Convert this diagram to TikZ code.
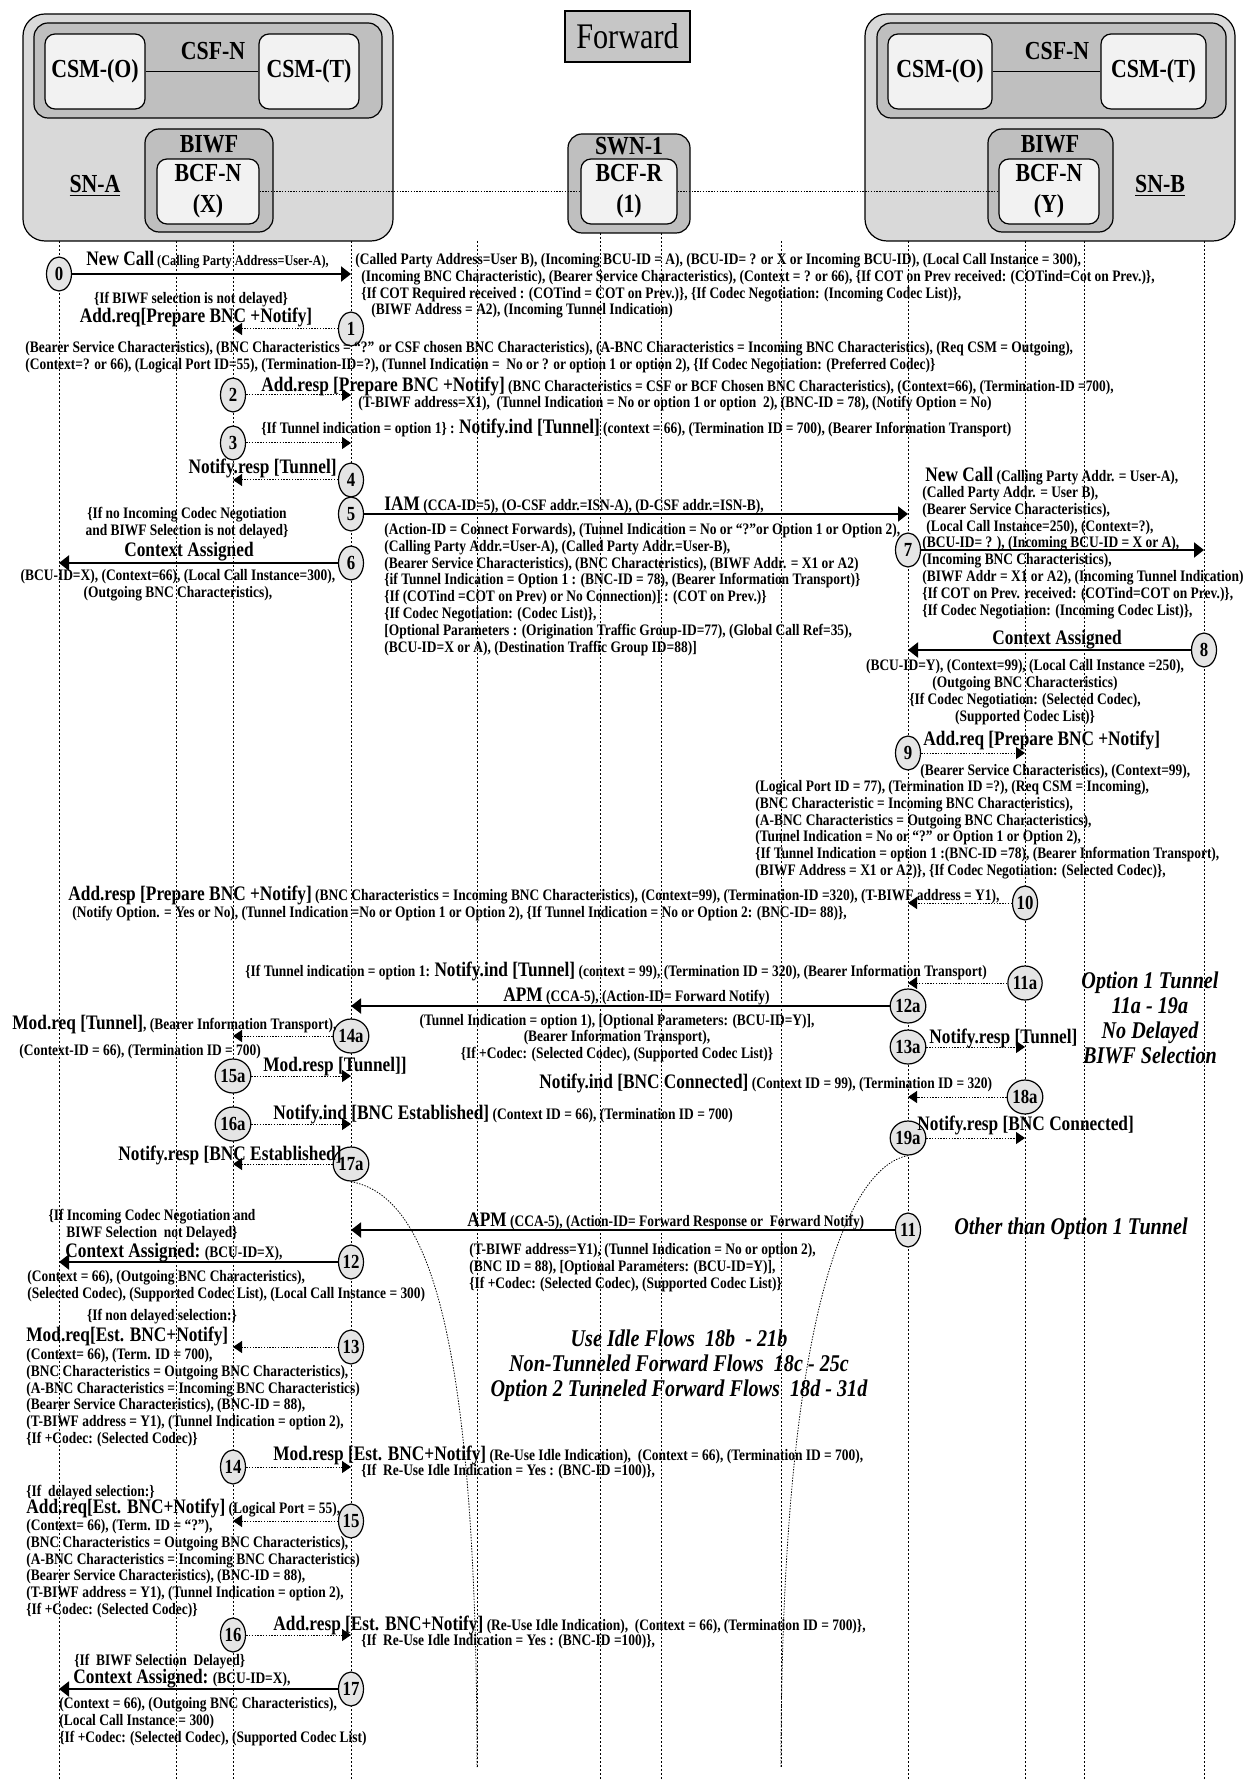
\documentclass[tikz,border=0pt]{standalone}
\usepackage{fontspec}
\setmainfont{Liberation Serif}[FakeStretch=0.84]
\usetikzlibrary{arrows.meta,shapes.geometric}

\newcommand{\txtsize}{\fontsize{8}{8.4}\selectfont}
\newcommand{\tinysize}{\fontsize{7.3}{8.4}\selectfont}
\newcommand{\msgsize}{\fontsize{10.3}{11}\selectfont}
\newcommand{\hdrsize}{\fontsize{13}{15.5}\selectfont}

\tikzset{
  lifeline/.style={line width=0.35pt, dash pattern=on 1pt off 1pt},
  snbox/.style={draw, line width=0.6pt, fill=gray!30, rounded corners=11pt},
  grpbox/.style={draw, line width=0.6pt, fill=gray!50, rounded corners=7pt},
  inbox/.style={draw, line width=0.6pt, fill=gray!10, rounded corners=5pt, font=\bfseries\hdrsize, align=center, inner sep=0pt},
  hdr/.style={font=\bfseries\hdrsize, inner sep=0pt},
  seqnum/.style={ellipse, draw, line width=0.6pt, fill=gray!20, minimum width=12.5pt, minimum height=17pt, inner sep=0pt, font=\bfseries\fontsize{10}{10}\selectfont},
  solidmsg/.style={line width=1pt, -{Triangle[length=5pt,width=7.5pt]}},
  dotmsg/.style={line width=0.5pt, dash pattern=on 0.7pt off 0.7pt, -{Triangle[length=4.5pt,width=6pt]}},
  txt/.style={font=\bfseries\txtsize, inner sep=0pt, anchor=base west},
  blk/.style={font=\bfseries\txtsize, inner sep=0pt, align=left, anchor=north west},
  cblk/.style={font=\bfseries\txtsize, inner sep=0pt, align=center},
  flow/.style={font=\bfseries\itshape\fontsize{12}{12.6}\selectfont, inner sep=0pt, align=center},
  link/.style={line width=0.4pt, dash pattern=on 0.7pt off 0.7pt}
}

\begin{document}
\begin{tikzpicture}[x=0.5pt, y=-0.5pt]
  \useasboundingbox (0,0) rectangle (1249,1780);

  % Lifelines
  \foreach \n/\lx/\ly/\ey in {1/59/241/1780, 2/176/241/1780, 3/233/241/1780, 4/351/241/1780,
      5/477/241/1767, 6/600/233/1780, 7/661/233/1780, 8/781/241/1767,
      9/908/241/1780, 10/1025/241/1780, 11/1084/241/1780, 12/1204/241/1780}{
    \coordinate (l\n) at (\lx,\ly);
    \coordinate (e\n) at (\lx,\ey);
    \draw[lifeline] (l\n) -- (e\n);
  }

  % Title
  \node[draw, line width=0.6pt, fill=gray!45, minimum width=62.5pt, minimum height=25.5pt, font=\fontsize{18}{20}\selectfont] (fwd) at (627.5,36.5) {Forward};

  % SN-A
  \node[snbox, minimum width=185pt, minimum height=113.5pt] (sna) at (208,127.5) {};
  \node[grpbox, minimum width=174pt, minimum height=47.5pt] (csfa) at (208,70.5) {};
  \node[inbox, minimum width=50pt, minimum height=37.5pt] (csmoa) at (95,71.5) {CSM-(O)};
  \node[inbox, minimum width=50pt, minimum height=37.5pt] (csmta) at (309,71.5) {CSM-(T)};
  \draw[line width=0.6pt] (csmoa) -- (csmta);
  \node[hdr] (csfla) at (213,51) {CSF-N};
  \node[grpbox, minimum width=64pt, minimum height=51.5pt] (biwfa) at (209,180.5) {};
  \node[hdr] (biwfla) at (209,144) {BIWF};
  \node[inbox, minimum width=51pt, minimum height=32.5pt] (bcfx) at (208,191.5) {BCF-N\\(X)};
  \node[hdr] (snal) at (95,186) {\underline{SN-A}};

  % SWN-1
  \node[grpbox, minimum width=61pt, minimum height=49.5pt] (swn) at (629,183.5) {};
  \node[hdr] (swnl) at (629,146) {SWN-1};
  \node[inbox, minimum width=48pt, minimum height=32.5pt] (bcfr) at (629,191.5) {BCF-R\\(1)};

  % SN-B
  \node[snbox, minimum width=185pt, minimum height=113.5pt] (snb) at (1050,127.5) {};
  \node[grpbox, minimum width=174.5pt, minimum height=47.5pt] (csfb) at (1051.5,70.5) {};
  \node[inbox, minimum width=52pt, minimum height=37.5pt] (csmob) at (940,71.5) {CSM-(O)};
  \node[inbox, minimum width=52.5pt, minimum height=37.5pt] (csmtb) at (1153.5,71.5) {CSM-(T)};
  \draw[line width=0.6pt] (csmob) -- (csmtb);
  \node[hdr] (csflb) at (1057,51) {CSF-N};
  \node[grpbox, minimum width=62.5pt, minimum height=51.5pt] (biwfb) at (1050.5,180.5) {};
  \node[hdr] (biwflb) at (1050,144) {BIWF};
  \node[inbox, minimum width=50pt, minimum height=32.5pt] (bcfy) at (1049,191.5) {BCF-N\\(Y)};
  \node[hdr] (snbl) at (1160,186) {\underline{SN-B}};

  % Bearer links
  \draw[link] (bcfx) -- (bcfr);
  \draw[link] (bcfr) -- (bcfy);

  % 0: New Call
  \node[seqnum] (c0) at (59,274) {0};
  \draw[solidmsg] (c0) -- (c0 -| l4);
  \node[txt, font=\bfseries\tinysize] (m0) at (86,266) {{\msgsize New Call} (Calling Party Address=User-A),};
  \node[blk] (m0b) at (355,253) {(Called Party Address=User B), (Incoming BCU-ID = A), (BCU-ID= ? or X or Incoming BCU-ID), (Local Call Instance = 300),\\
    \hspace*{3pt}(Incoming BNC Characteristic), (Bearer Service Characteristics), (Context = ? or 66), \{If COT on Prev received: (COTind=Cot on Prev.)\},\\
    \hspace*{3pt}\{If COT Required received : (COTind = COT on Prev.)\}, \{If Codec Negotiation: (Incoming Codec List)\},\\
    \hspace*{8pt}(BIWF Address = A2), (Incoming Tunnel Indication)};

  % 1: Add.req
  \node[txt, anchor=base] (m1c) at (191,304) {\{If BIWF selection is not delayed\}};
  \node[txt, anchor=base] (m1) at (196,323) {\msgsize Add.req[Prepare BNC +Notify]};
  \node[seqnum] (c1) at (351,329) {1};
  \draw[dotmsg] (c1) -- (c1 -| l3);
  \node[blk] (m1b) at (25,341) {(Bearer Service Characteristics), (BNC Characteristics = ``?'' or CSF chosen BNC Characteristics), (A-BNC Characteristics = Incoming BNC Characteristics), (Req CSM = Outgoing),\\
    (Context=? or 66), (Logical Port ID=55), (Termination-ID=?), (Tunnel Indication = ~No or ? or option 1 or option 2), \{If Codec Negotiation: (Preferred Codec)\}};

  % 2: Add.resp
  \node[seqnum] (c2) at (233,395) {2};
  \draw[dotmsg] (c2) -- (c2 -| l4);
  \node[txt] (m2) at (261,392) {{\msgsize Add.resp [Prepare BNC +Notify]} (BNC Characteristics = CSF or BCF Chosen BNC Characteristics), (Context=66), (Termination-ID =700),};
  \node[txt] (m2b) at (358,408) {(T-BIWF address=X1), ~(Tunnel Indication = No or option 1 or option ~2), (BNC-ID = 78), (Notify Option = No)};

  % 3: Notify.ind
  \node[seqnum] (c3) at (233,443) {3};
  \draw[dotmsg] (c3) -- (c3 -| l4);
  \node[txt] (m3) at (261,434) {\{If Tunnel indication = option 1\} : {\msgsize Notify.ind [Tunnel]} (context = 66), (Termination ID = 700), (Bearer Information Transport)};

  % 4: Notify.resp
  \node[seqnum] (c4) at (351,480) {4};
  \draw[dotmsg] (c4) -- (c4 -| l3);
  \node[txt, anchor=base east] (m4) at (337,474) {\msgsize Notify.resp [Tunnel]};

  % 5: IAM
  \node[seqnum] (c5) at (351,514) {5};
  \draw[solidmsg] (c5) -- (c5 -| l9);
  \node[txt] (m5) at (384,510) {{\msgsize IAM} (CCA-ID=5), (O-CSF addr.=ISN-A), (D-CSF addr.=ISN-B),};
  \node[blk] (m5b) at (384,523) {(Action-ID = Connect Forwards), (Tunnel Indication = No or ``?''or Option 1 or Option 2),\\
    (Calling Party Addr.=User-A), (Called Party Addr.=User-B),\\
    (Bearer Service Characteristics), (BNC Characteristics), (BIWF Addr. = X1 or A2)\\
    \{if Tunnel Indication = Option 1 : (BNC-ID = 78), (Bearer Information Transport)\}\\
    \{If (COTind =COT on Prev) or No Connection)] : (COT on Prev.)\}\\
    \{If Codec Negotiation: (Codec List)\},\\
    {[}Optional Parameters : (Origination Traffic Group-ID=77), (Global Call Ref=35),\\
    (BCU-ID=X or A), (Destination Traffic Group ID=88)]};

  % 6: Context Assigned
  \node[cblk] (m6c) at (187,523) {\{If no Incoming Codec Negotiation\\and BIWF Selection is not delayed\}};
  \node[txt, anchor=base] (m6) at (189,556) {\msgsize Context Assigned};
  \node[seqnum] (c6) at (351,563) {6};
  \draw[solidmsg] (c6) -- (c6 -| l1);
  \node[cblk] (m6b) at (178,585) {(BCU-ID=X), (Context=66), (Local Call Instance=300),\\(Outgoing BNC Characteristics),};

  % 7: New Call (SN-B)
  \node[txt] (m7) at (925,482) {{\msgsize New Call} (Calling Party Addr. = User-A),};
  \node[seqnum] (c7) at (908,550) {7};
  \draw[solidmsg] (c7) -- (c7 -| l12);
  \node[blk] (m7b) at (922,486) {(Called Party Addr. = User B),\\
    (Bearer Service Characteristics),\\
    \hspace*{2pt}(Local Call Instance=250), (Context=?),\\
    (BCU-ID= ? ), (Incoming BCU-ID = X or A),\\
    (Incoming BNC Characteristics),\\
    (BIWF Addr = X1 or A2), (Incoming Tunnel Indication)\\
    \{If COT on Prev. received: (COTind=COT on Prev.)\},\\
    \{If Codec Negotiation: (Incoming Codec List)\},};

  % 8: Context Assigned (SN-B)
  \node[txt, anchor=base] (m8) at (1057,644) {\msgsize Context Assigned};
  \node[seqnum] (c8) at (1204,650) {8};
  \draw[solidmsg] (c8) -- (c8 -| l9);
  \node[cblk] (m8b) at (1025,692) {(BCU-ID=Y), (Context=99), (Local Call Instance =250),\\
    (Outgoing BNC Characteristics)\\
    \{If Codec Negotiation: (Selected Codec),\\
    (Supported Codec List)\}};

  % 9: Add.req (SN-B)
  \node[seqnum] (c9) at (908,753) {9};
  \draw[dotmsg] (c9) -- (c9 -| l10);
  \node[txt] (m9) at (923,745) {\msgsize Add.req [Prepare BNC +Notify]};
  \node[txt] (m9a) at (920,775) {(Bearer Service Characteristics), (Context=99),};
  \node[blk] (m9b) at (755,780) {(Logical Port ID = 77), (Termination ID =?), (Req CSM = Incoming),\\
    (BNC Characteristic = Incoming BNC Characteristics),\\
    (A-BNC Characteristics = Outgoing BNC Characteristics),\\
    (Tunnel Indication = No or ``?'' or Option 1 or Option 2),\\
    \{If Tunnel Indication = option 1 :(BNC-ID =78), (Bearer Information Transport),\\
    (BIWF Address = X1 or A2)\}, \{If Codec Negotiation: (Selected Codec)\},};

  % 10: Add.resp (SN-B)
  \node[seqnum] (c10) at (1025,903) {10};
  \draw[dotmsg] (c10) -- (c10 -| l9);
  \node[txt] (m10) at (68,900) {{\msgsize Add.resp [Prepare BNC +Notify]} (BNC Characteristics = Incoming BNC Characteristics), (Context=99), (Termination-ID =320), (T-BIWF address = Y1),};
  \node[txt] (m10b) at (72,917) {(Notify Option. = Yes or No), (Tunnel Indication =No or Option 1 or Option 2), \{If Tunnel Indication = No or Option 2: (BNC-ID= 88)\},};

  % 11a - 19a: Option 1 Tunnel
  \node[seqnum] (c11a) at (1025,983) {11a};
  \draw[dotmsg] (c11a) -- (c11a -| l9);
  \node[txt] (m11a) at (245,976) {\{If Tunnel indication = option 1: {\msgsize Notify.ind [Tunnel]} (context = 99), (Termination ID = 320), (Bearer Information Transport)};
  \node[flow] (opt1) at (1150,1018) {Option 1 Tunnel\\11a - 19a\\No Delayed\\BIWF Selection};

  \node[seqnum] (c12a) at (908,1006) {12a};
  \draw[solidmsg] (c12a) -- (c12a -| l4);
  \node[txt] (m12a) at (503,1001) {{\msgsize APM} (CCA-5), (Action-ID= Forward Notify)};
  \node[cblk] (m12ab) at (617,1038) {(Tunnel Indication = option 1), [Optional Parameters: (BCU-ID=Y)],\\
    (Bearer Information Transport),\\
    \{If +Codec: (Selected Codec), (Supported Codec List)\}};

  \node[seqnum] (c13a) at (908,1047) {13a};
  \draw[dotmsg] (c13a) -- (c13a -| l10);
  \node[txt] (m13a) at (929,1043) {\msgsize Notify.resp [Tunnel]};

  \node[seqnum] (c14a) at (351,1036) {14a};
  \draw[dotmsg] (c14a) -- (c14a -| l3);
  \node[txt] (m14a) at (12,1029) {{\msgsize Mod.req [Tunnel]}, (Bearer Information Transport),};
  \node[txt] (m14ab) at (19,1055) {(Context-ID = 66), (Termination ID = 700)};

  \node[seqnum] (c15a) at (233,1076) {15a};
  \draw[dotmsg] (c15a) -- (c15a -| l4);
  \node[txt] (m15a) at (263,1071) {\msgsize Mod.resp [Tunnel]]};

  \node[seqnum] (c18a) at (1025,1097) {18a};
  \draw[dotmsg] (c18a) -- (c18a -| l9);
  \node[txt] (m18a) at (539,1088) {{\msgsize Notify.ind [BNC Connected]} (Context ID = 99), (Termination ID = 320)};

  \node[seqnum] (c16a) at (233,1124) {16a};
  \draw[dotmsg] (c16a) -- (c16a -| l4);
  \node[txt] (m16a) at (273,1119) {{\msgsize Notify.ind [BNC Established]} (Context ID = 66), (Termination ID = 700)};

  \node[seqnum] (c19a) at (908,1138) {19a};
  \draw[dotmsg] (c19a) -- (c19a -| l10);
  \node[txt] (m19a) at (917,1130) {\msgsize Notify.resp [BNC Connected]};

  \node[seqnum] (c17a) at (351,1164) {17a};
  \draw[dotmsg] (c17a) -- (c17a -| l3);
  \node[txt] (m17a) at (118,1160) {\msgsize Notify.resp [BNC Established]};

  % Separating curves
  \draw[link] (c17a.south) .. controls (420,1195) and (477,1300) .. (e5);
  \draw[link] (c19a.south) .. controls (855,1165) and (781,1290) .. (e8);

  % 11: APM, other than option 1 tunnel
  \node[cblk] (m11c) at (152,1225) {\{If Incoming Codec Negotiation and\\BIWF Selection ~not Delayed\}};
  \node[seqnum] (c11) at (908,1230) {11};
  \draw[solidmsg] (c11) -- (c11 -| l4);
  \node[txt] (m11) at (467,1226) {{\msgsize APM} (CCA-5), (Action-ID= Forward Response or ~Forward Notify)};
  \node[flow] (opt2) at (1071,1229) {Other than Option 1 Tunnel};
  \node[blk] (m11b) at (469,1243) {(T-BIWF address=Y1), (Tunnel Indication = No or option 2),\\
    (BNC ID = 88), [Optional Parameters: (BCU-ID=Y)],\\
    \{If +Codec: (Selected Codec), (Supported Codec List)\}};

  % 12: Context Assigned
  \node[seqnum] (c12) at (351,1262) {12};
  \draw[solidmsg] (c12) -- (c12 -| l1);
  \node[txt] (m12) at (65,1257) {{\msgsize Context Assigned:} (BCU-ID=X),};
  \node[blk] (m12b) at (27,1270) {(Context = 66), (Outgoing BNC Characteristics),\\
    (Selected Codec), (Supported Codec List), (Local Call Instance = 300)};

  % 13: Mod.req
  \node[txt, anchor=base] (m13c) at (162,1320) {\{If non delayed selection:\}};
  \node[txt] (m13) at (26,1341) {\msgsize Mod.req[Est. BNC+Notify]};
  \node[seqnum] (c13) at (351,1347) {13};
  \draw[dotmsg] (c13) -- (c13 -| l3);
  \node[blk] (m13b) at (26,1348) {(Context= 66), (Term. ID = 700),\\
    (BNC Characteristics = Outgoing BNC Characteristics),\\
    (A-BNC Characteristics = Incoming BNC Characteristics)\\
    (Bearer Service Characteristics), (BNC-ID = 88),\\
    (T-BIWF address = Y1), (Tunnel Indication = option 2),\\
    \{If +Codec: (Selected Codec)\}};

  \node[flow] (flows) at (679,1366) {Use Idle Flows ~18b ~- 21b\\Non-Tunneled Forward Flows ~18c - 25c\\Option 2 Tunneled Forward Flows ~18d - 31d};

  % 14: Mod.resp
  \node[seqnum] (c14) at (233,1467) {14};
  \draw[dotmsg] (c14) -- (c14 -| l4);
  \node[txt] (m14) at (273,1460) {{\msgsize Mod.resp [Est. BNC+Notify]} (Re-Use Idle Indication), ~(Context = 66), (Termination ID = 700),};
  \node[txt] (m14b) at (361,1475) {\{If ~Re-Use Idle Indication = Yes : (BNC-ID =100)\},};

  % 15: Add.req
  \node[txt] (m15c) at (26,1496) {\{If ~delayed selection:\}};
  \node[txt] (m15) at (26,1513) {{\msgsize Add.req[Est. BNC+Notify]} (Logical Port = 55),};
  \node[seqnum] (c15) at (351,1521) {15};
  \draw[dotmsg] (c15) -- (c15 -| l3);
  \node[blk] (m15b) at (26,1519) {(Context= 66), (Term. ID = ``?''),\\
    (BNC Characteristics = Outgoing BNC Characteristics),\\
    (A-BNC Characteristics = Incoming BNC Characteristics)\\
    (Bearer Service Characteristics), (BNC-ID = 88),\\
    (T-BIWF address = Y1), (Tunnel Indication = option 2),\\
    \{If +Codec: (Selected Codec)\}};

  % 16: Add.resp
  \node[seqnum] (c16) at (233,1635) {16};
  \draw[dotmsg] (c16) -- (c16 -| l4);
  \node[txt] (m16) at (273,1630) {{\msgsize Add.resp [Est. BNC+Notify]} (Re-Use Idle Indication), ~(Context = 66), (Termination ID = 700)\},};
  \node[txt] (m16b) at (361,1645) {\{If ~Re-Use Idle Indication = Yes : (BNC-ID =100)\},};

  % 17: Context Assigned
  \node[txt] (m17c) at (74,1665) {\{If ~BIWF Selection ~Delayed\}};
  \node[txt] (m17) at (73,1683) {{\msgsize Context Assigned:} (BCU-ID=X),};
  \node[seqnum] (c17) at (351,1689) {17};
  \draw[solidmsg] (c17) -- (c17 -| l1);
  \node[blk] (m17b) at (59,1697) {(Context = 66), (Outgoing BNC Characteristics),\\
    (Local Call Instance = 300)\\
    \{If +Codec: (Selected Codec), (Supported Codec List)};
\end{tikzpicture}
\end{document}
